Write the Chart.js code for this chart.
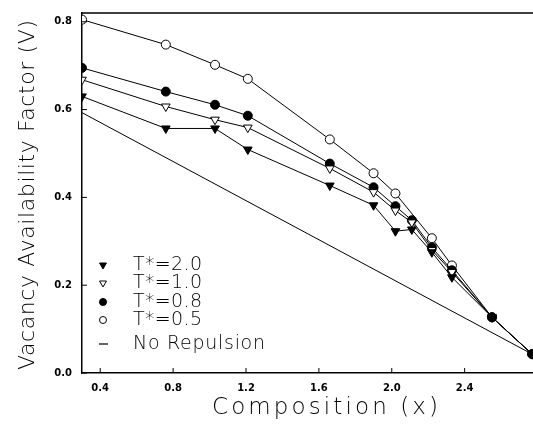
<!DOCTYPE html>
<html>
<head>
<meta charset="utf-8">
<script src="https://cdn.jsdelivr.net/npm/chart.js@4/dist/chart.umd.min.js"></script>
<style>
  html,body{margin:0;padding:0;background:#fff;overflow:hidden;}
  #wrap{width:533px;height:434px;position:relative;}
</style>
</head>
<body>
<div id="wrap"><canvas id="c"></canvas></div>
<script>
// composition values shared by the four T* curves
const compX = [0.3, 0.76, 1.03, 1.21, 1.66, 1.9, 2.02, 2.11, 2.22, 2.33, 2.55, 2.77];
const vT20 = [0.630, 0.557, 0.557, 0.509, 0.427, 0.382, 0.323, 0.327, 0.275, 0.218, 0.127, 0.043];
const vT10 = [0.668, 0.607, 0.577, 0.559, 0.466, 0.412, 0.370, 0.343, 0.280, 0.230, 0.127, 0.043];
const vT08 = [0.695, 0.641, 0.611, 0.586, 0.477, 0.423, 0.380, 0.348, 0.286, 0.234, 0.127, 0.043];
const vT05 = [0.805, 0.748, 0.702, 0.670, 0.532, 0.455, 0.409, null, 0.307, 0.245, 0.127, 0.043];
// straight "no repulsion" reference line
const noRepX = [0.3, 2.77];
const noRepV = [0.593, 0.043];

const xTicks = [0.4, 0.8, 1.2, 1.6, 2.0, 2.4];
const yTicks = [0.0, 0.2, 0.4, 0.6, 0.8];
const labels = ['T*=2.0', 'T*=1.0', 'T*=0.8', 'T*=0.5', 'No Repulsion'];

const pts = (xs, ys) => xs.map((x,i) => ({x:x, y:ys[i]}));

function series(label, ys, style, filled, rot){
  return {
    label, data: pts(compX, ys), borderColor:'#000', borderWidth:1,
    pointStyle: style, pointRotation: rot||0, pointRadius: style==='triangle'?5:4.5,
    pointBackgroundColor: filled ? '#000' : '#fff', pointBorderColor:'#000', pointBorderWidth:1,
    spanGaps:true, tension:0
  };
}

// fit text to a target width with letter spacing
function fitText(ctx, txt, x, y, w){
  ctx.letterSpacing = '0px';
  const m = ctx.measureText(txt).width;
  const sp = (w - m) / Math.max(1, txt.length - 1);
  ctx.letterSpacing = sp + 'px';
  ctx.fillText(txt, x, y);
  ctx.letterSpacing = '0px';
}

const decor = {
  id:'decor',
  afterDraw(chart){
    const ctx = chart.ctx, a = chart.chartArea, sx = chart.scales.x, sy = chart.scales.y;
    ctx.save();
    ctx.strokeStyle = '#000'; ctx.lineWidth = 1.5;
    // top frame line
    ctx.beginPath(); ctx.moveTo(a.left, a.top); ctx.lineTo(a.right, a.top); ctx.stroke();
    // inward tick marks
    ctx.lineWidth = 1;
    xTicks.forEach(v => { const p = sx.getPixelForValue(v); ctx.beginPath(); ctx.moveTo(p, a.bottom); ctx.lineTo(p, a.bottom-5); ctx.stroke(); });
    yTicks.forEach(v => { const p = sy.getPixelForValue(v); ctx.beginPath(); ctx.moveTo(a.left, p); ctx.lineTo(a.left+5, p); ctx.stroke(); });

    // axis titles
    ctx.fillStyle = '#000';
    ctx.font = '200 23px "DejaVu Sans"';
    ctx.textAlign = 'left'; ctx.textBaseline = 'middle';
    fitText(ctx, 'Composition (x)', 212, 408, 226);
    ctx.save();
    ctx.translate(28, 370); ctx.rotate(-Math.PI/2);
    ctx.font = '200 22px "DejaVu Sans"';
    fitText(ctx, 'Vacancy Availability Factor (V)', 0, 0, 350);
    ctx.restore();

    // legend inside the plot
    const rows = [265, 283, 302, 320, 344];
    ctx.font = '200 19px "DejaVu Sans"';
    chart.data.datasets.forEach((ds, i) => {
      const y = rows[i];
      if (ds.pointRadius > 0){
        ctx.fillStyle = ds.pointBackgroundColor; ctx.strokeStyle = '#000'; ctx.lineWidth = 1;
        Chart.helpers.drawPoint(ctx, {pointStyle: ds.pointStyle, rotation: ds.pointRotation, radius: ds.pointStyle==='triangle'?4:3.5, borderWidth:1}, 103, y);
      } else {
        ctx.strokeStyle = '#000'; ctx.lineWidth = 1.2;
        ctx.beginPath(); ctx.moveTo(99, y); ctx.lineTo(108, y); ctx.stroke();
      }
      ctx.fillStyle = '#000';
      fitText(ctx, ds.label, 133, y, i === 4 ? 132 : 69);
    });
    ctx.restore();
  }
};

new Chart(document.getElementById('c'), {
  type:'line',
  data:{
    datasets:[
      series(labels[0], vT20, 'triangle', true, 180),
      series(labels[1], vT10, 'triangle', false, 180),
      series(labels[2], vT08, 'circle', true),
      series(labels[3], vT05, 'circle', false),
      { label: labels[4], data: pts(noRepX, noRepV), borderColor:'#000', borderWidth:1, pointRadius:0, tension:0 }
    ]
  },
  options:{
    responsive:true, maintainAspectRatio:false, animation:false,
    layout:{ autoPadding:false, padding:{ top:13, right:0, left:0, bottom:0 } },
    plugins:{ legend:{ display:false }, tooltip:{ enabled:false } },
    scales:{
      x:{
        type:'linear', min:0.3, max:2.775,
        afterBuildTicks: s => { s.ticks = xTicks.map(v => ({value:v})); },
        afterFit: s => { s.height = 61; s.paddingRight = 0; s.paddingLeft = 0; },
        grid:{ display:false, drawTicks:false },
        border:{ display:true, color:'#000', width:1.5 },
        ticks:{ padding:9, color:'#000', font:{ family:'DejaVu Sans', size:10, weight:'bold' }, callback: v => v.toFixed(1) }
      },
      y:{
        min:0, max:0.82,
        afterBuildTicks: s => { s.ticks = yTicks.map(v => ({value:v})); },
        afterFit: s => { s.width = 82; s.paddingTop = 0; s.paddingBottom = 0; },
        grid:{ display:false, drawTicks:false },
        border:{ display:true, color:'#000', width:1.5 },
        ticks:{ padding:10, color:'#000', font:{ family:'DejaVu Sans', size:10, weight:'bold' }, callback: v => v.toFixed(1) }
      }
    }
  },
  plugins:[decor]
});
</script>
</body>
</html>
